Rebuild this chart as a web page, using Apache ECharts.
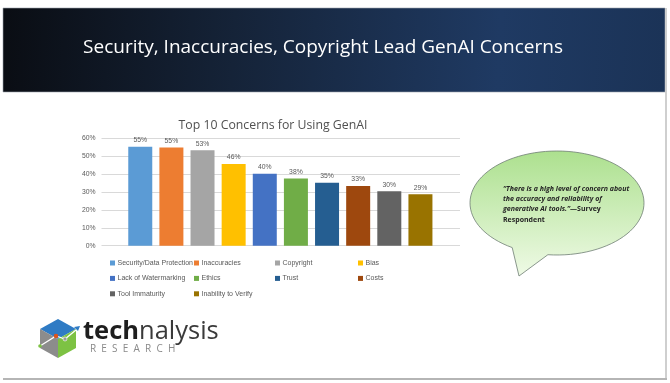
<!DOCTYPE html>
<html>
<head>
<meta charset="utf-8">
<script src="https://cdn.jsdelivr.net/npm/echarts@6/dist/echarts.min.js"></script>
<style>
html,body{margin:0;padding:0;background:#fff;}
#c{width:670px;height:383px;}
</style>
</head>
<body>
<div id="c"></div>
<script>
// ---- data ----
const pageTitle = 'Security, Inaccuracies, Copyright Lead GenAI Concerns';
const chartTitle = 'Top 10 Concerns for Using GenAI';
const categories = ['Security/Data Protection','Inaccuracies','Copyright','Bias','Lack of Watermarking','Ethics','Trust','Costs','Tool Immaturity','Inability to Verify'];
const values = [55.3, 54.8, 53.3, 45.7, 40.2, 37.6, 35.1, 33.4, 30.4, 28.8];
const colors = ['#5B9BD5','#ED7D31','#A5A5A5','#FFC000','#4472C4','#70AD47','#255E91','#9E480E','#636363','#997300'];
const yTicks = [0, 10, 20, 30, 40, 50, 60];
const legendColumns = [
  ['Security/Data Protection','Lack of Watermarking','Tool Immaturity'],
  ['Inaccuracies','Ethics','Inability to Verify'],
  ['Copyright','Trust'],
  ['Bias','Costs']
];
const quoteLines = ['\u201CThere is a high level of concern about','the accuracy and reliability of','generative AI tools.\u201D'];
const quoteTail = ['\u2014Survey','Respondent'];

const chart = echarts.init(document.getElementById('c'), null, {renderer:'canvas'});
const FONT = '"Liberation Sans",Arial,sans-serif';

const series = categories.map((name, i) => ({
  name: name,
  type: 'bar',
  stack: 'all',
  xAxisIndex: 1,
  yAxisIndex: 1,
  barWidth: 24,
  itemStyle: {color: colors[i]},
  label: {show: true, position: 'top', distance: 3, fontSize: 6.8, color: '#595959', fontFamily: FONT,
          formatter: p => Math.round(p.value) + '%'},
  data: categories.map((c, j) => j === i ? values[i] : null)
}));

const legendLeft = [110, 194, 275, 358];
const legends = legendColumns.map((col, k) => ({
  data: col, orient: 'vertical', left: legendLeft[k], top: 258,
  itemWidth: 5, itemHeight: 5, itemGap: 5.4, icon: 'rect', padding: 0,
  selectedMode: false,
  textStyle: {fontSize: 7, lineHeight: 10, color: '#595959', fontFamily: FONT, padding: [0,0,0,-2.5]}
}));

// speech bubble outline (decoration): ellipse arc from tail-left to tail-right, then tail tip
function bubblePoints(cx, cy, rx, ry, a0, a1, tip) {
  const pts = [];
  const n = 90;
  for (let k = 0; k <= n; k++) {
    const a = a0 + (a1 - a0) * k / n;
    pts.push([cx + rx * Math.cos(a), cy + ry * Math.sin(a)]);
  }
  pts.push(tip);
  return pts;
}
const bubble = bubblePoints(557, 203, 87, 52, 121 * Math.PI / 180, (96 + 360) * Math.PI / 180, [519, 276]);

chart.setOption({
  animation: false,
  title: {text: chartTitle, left: 268, top: 114, textAlign: 'center',
          textStyle: {fontSize: 12.3, fontWeight: 'normal', color: '#505050', fontFamily: '"Open Sans",sans-serif'}},
  legend: legends,
  grid: [
    {left: 101.5, right: 210, top: 138.3, height: 107.4},
    {left: 124.7, right: 234, top: 138.3, height: 107.4}
  ],
  xAxis: [
    {gridIndex: 0, type: 'value', min: 0, max: 1, show: false},
    {gridIndex: 1, type: 'category', data: categories, show: false}
  ],
  yAxis: [
    {gridIndex: 0, type: 'value', min: yTicks[0], max: yTicks[yTicks.length-1], interval: 10,
     axisLine: {show: false}, axisTick: {show: false},
     axisLabel: {formatter: v => v + '%', fontSize: 6.8, color: '#595959', margin: 6, fontFamily: FONT},
     splitLine: {lineStyle: {color: '#d9d9d9', width: 1}}},
    {gridIndex: 1, type: 'value', min: yTicks[0], max: yTicks[yTicks.length-1], interval: 10, show: false}
  ],
  series: series,
  graphic: [
    // banner
    {type: 'rect', z: -1, shape: {x: 3, y: 8, width: 662, height: 84},
     style: {fill: new echarts.graphic.LinearGradient(0, 0, 1, 0.4, [
       {offset: 0, color: '#0a0d13'}, {offset: 0.35, color: '#152338'}, {offset: 0.75, color: '#1f3a63'}, {offset: 1, color: '#1b3357'}]),
       stroke: '#9aa3ad', lineWidth: 0.6}},
    {type: 'text', z: 5, x: 323, y: 48,
     style: {text: pageTitle, fill: '#ffffff', fontSize: 19, fontFamily: '"Open Sans",sans-serif', align: 'center', verticalAlign: 'middle'}},
    // frame lines
    {type: 'rect', shape: {x: 665, y: 8, width: 2, height: 372}, style: {fill: '#cfcfcf'}},
    {type: 'rect', shape: {x: 3, y: 378, width: 664, height: 2}, style: {fill: '#b5b5b5'}},
    // speech bubble
    {type: 'polygon', z: 3,
     shape: {points: bubble},
     style: {fill: new echarts.graphic.LinearGradient(0, 0, 0, 1, [
       {offset: 0, color: '#ace08e'}, {offset: 1, color: '#effae6'}]),
       stroke: '#6f7d74', lineWidth: 0.8}},
    {type: 'text', z: 4, x: 503, y: 183.5,
     style: {text: '{q|' + quoteLines[0] + '}\n{q|' + quoteLines[1] + '}\n{q|' + quoteLines[2] + '}{n|' + quoteTail[0] + '}\n{n|' + quoteTail[1] + '}',
       rich: {q: {fontSize: 7, fontStyle: 'italic', fontWeight: 'bold', fill: '#262626', lineHeight: 10.3, fontFamily: '"Open Sans",sans-serif'},
              n: {fontSize: 7, fontWeight: 'bold', fill: '#262626', lineHeight: 10.3, fontFamily: '"Open Sans",sans-serif'}}}},
    // logo cube
    {type: 'polygon', shape: {points: [[58,319],[76,329],[58,339],[40,329]]}, style: {fill: '#2f7bc4'}},
    {type: 'polygon', shape: {points: [[40,329],[58,339],[58,358],[40,348]]}, style: {fill: '#8c8c8c'}},
    {type: 'polygon', shape: {points: [[58,339],[76,329],[76,348],[58,358]]}, style: {fill: '#7dc243'}},
    {type: 'polyline', shape: {points: [[40,346],[56,336],[65,339],[76,330]]}, style: {stroke: '#ffffff', lineWidth: 1.3, fill: null}},
    {type: 'circle', shape: {cx: 56, cy: 336, r: 2.3}, style: {fill: '#d9541e'}},
    {type: 'circle', shape: {cx: 65, cy: 339, r: 2}, style: {fill: '#9a9a9a', stroke: '#fff', lineWidth: 0.6}},
    {type: 'circle', shape: {cx: 40, cy: 346, r: 1.8}, style: {fill: '#7dc243'}},
    {type: 'polygon', shape: {points: [[80,326],[74,327],[78,331]]}, style: {fill: '#2f7bc4'}},
    {type: 'text', x: 83, y: 319,
     style: {text: '{b|tech}{l|nalysis}',
       rich: {b: {fontSize: 25.5, fontWeight: 'bold', fill: '#1e1e1e', fontFamily: '"Open Sans",sans-serif'},
              l: {fontSize: 25.5, fill: '#3a3a3a', fontFamily: '"Open Sans",sans-serif'}}}},
    {type: 'text', x: 90, y: 344,
     style: {text: 'R  E  S  E  A  R  C  H', fontSize: 10, fill: '#8a8a8a', fontFamily: '"Open Sans",sans-serif'}}
  ]
});
</script>
</body>
</html>
